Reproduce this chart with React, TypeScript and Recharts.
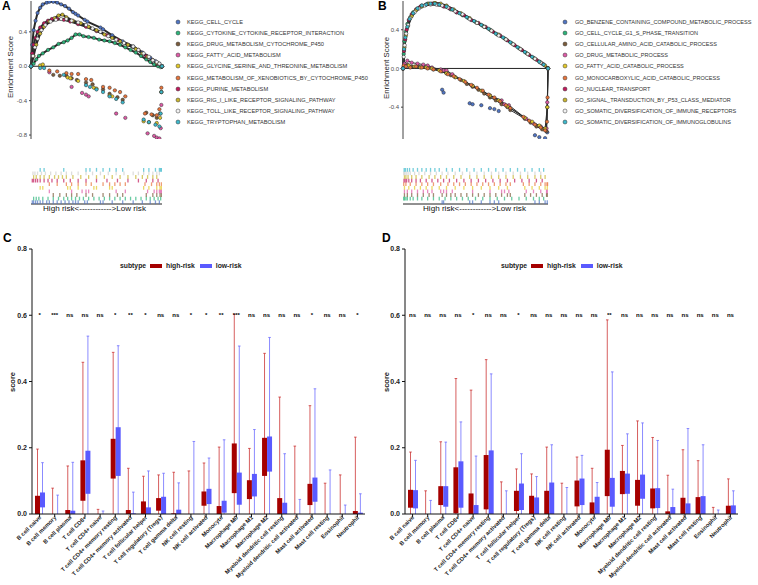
import React from 'react'
import {
  LineChart,
  Line,
  ComposedChart,
  Bar,
  ScatterChart,
  Scatter,
  XAxis,
  YAxis,
  ReferenceLine,
  LabelList
} from 'recharts'

const FONT = '"Liberation Sans", Arial, Helvetica, sans-serif'

// ---------- GSEA running scores, [rank %, enrichment score] ----------
const keggCellCycle = [[0,0],[1,0.25],[2,0.42],[3.5,0.53],[5,0.62],[7,0.68],[9,0.72],[12,0.74],[14,0.75],[17,0.75],[20,0.74],[23,0.72],[26,0.7],[29,0.67],[32,0.63],[34,0.61],[36,0.59],[41,0.54],[43,0.52],[53,0.45],[55,0.43],[62,0.36],[70,0.29],[78,0.23],[85,0.16],[91,0.1],[95,0.06],[98,0.03],[100,0]]
const keggCytokine = [[0,0],[2,0.03],[4,0.08],[6,0.12],[9,0.15],[13,0.19],[17,0.22],[21,0.26],[25,0.28],[28,0.3],[31,0.33],[34,0.37],[37,0.37],[40,0.35],[44,0.34],[48,0.33],[52,0.31],[56,0.3],[60,0.29],[64,0.27],[68,0.25],[72,0.22],[76,0.19],[80,0.16],[84,0.12],[88,0.08],[91,0.05],[94,0.02],[97,0],[99,-0.01],[100,0]]
const keggDrug = [[0,0],[17,-0.1],[22,-0.11],[27,-0.11],[31,-0.14],[35,-0.16],[42,-0.19],[47,-0.21],[55,-0.27],[60,-0.32],[66,-0.36],[70,-0.39],[88,-0.54],[93,-0.57],[96,-0.6],[98.5,-0.55],[99.5,-0.3],[100,0]]
const keggFatty = [[0,0],[14,-0.07],[31,-0.24],[39,-0.31],[42,-0.33],[44,-0.35],[65,-0.55],[72,-0.6],[89,-0.78],[94,-0.81],[96,-0.83],[98,-0.84],[99,-0.72],[99.5,-0.45],[100,0]]
const keggGlycine = [[0,0],[7,0.01],[9,0.02],[28,-0.13],[30,-0.14],[36,-0.17],[48,-0.25],[50,-0.26],[60,-0.34],[62,-0.35],[86,-0.64],[90,-0.65],[96,-0.66],[98.5,-0.6],[99.5,-0.3],[100,0]]
const keggXeno = [[0,0],[14,-0.05],[20,-0.06],[27,-0.08],[31,-0.09],[36,-0.09],[42,-0.15],[46,-0.16],[55,-0.24],[60,-0.25],[64,-0.28],[68,-0.3],[72,-0.35],[87,-0.55],[92,-0.56],[96,-0.57],[98,-0.5],[99.5,-0.25],[100,0]]
const keggPurine = [[0,0],[1,0.15],[2,0.25],[3.5,0.33],[5,0.4],[7,0.45],[10,0.5],[13,0.53],[16,0.55],[20,0.55],[25,0.54],[30,0.52],[36,0.49],[42,0.46],[50,0.41],[58,0.36],[66,0.31],[74,0.25],[82,0.19],[88,0.12],[93,0.07],[97,0.03],[100,0]]
const keggRig = [[0,0],[2,0.12],[4,0.25],[7,0.38],[10,0.46],[14,0.52],[18,0.56],[21,0.59],[24,0.6],[27,0.57],[32,0.53],[38,0.5],[44,0.46],[50,0.42],[56,0.37],[62,0.33],[68,0.29],[74,0.25],[80,0.2],[85,0.15],[89,0.11],[93,0.07],[96,0.04],[100,0]]
const keggToll = [[0,0],[1.5,0.12],[3,0.22],[5,0.32],[8,0.42],[11,0.48],[15,0.52],[19,0.54],[23,0.55],[27,0.55],[31,0.53],[36,0.51],[42,0.48],[47,0.44],[53,0.4],[59,0.35],[65,0.31],[71,0.27],[78,0.23],[82,0.19],[86,0.15],[90,0.11],[93,0.07],[96,0.05],[98,0.03],[100,0]]
const keggTrp = [[0,0],[7,-0.02],[10,-0.02],[25,-0.1],[42,-0.22],[45,-0.24],[50,-0.27],[55,-0.3],[60,-0.35],[65,-0.38],[70,-0.42],[86,-0.62],[90,-0.65],[95,-0.68],[98,-0.7],[99,-0.55],[99.5,-0.3],[100,0]]

const goBenzene = [[0,0],[27,-0.22],[28,-0.25],[46,-0.36],[48,-0.37],[54,-0.38],[60,-0.41],[63,-0.42],[66,-0.44],[91,-0.69],[94,-0.71],[98,-0.72],[99.5,-0.66],[100,0]]
const goG1S = [[0,0],[0.5,0.15],[1,0.28],[2,0.38],[3,0.46],[5,0.53],[7,0.58],[10,0.62],[13,0.65],[17,0.67],[21,0.67],[25,0.66],[29,0.64],[33,0.61],[37,0.58],[41,0.55],[45,0.52],[50,0.48],[55,0.44],[60,0.4],[65,0.35],[70,0.31],[75,0.26],[80,0.21],[85,0.16],[90,0.11],[94,0.07],[97,0.04],[100,0]]
const goAmino = [[0,0],[1,0.03],[3,0.04],[6,0.02],[10,0.03],[14,0.02],[18,0.01],[21,-0.01],[27,-0.03],[30,-0.05],[33,-0.07],[36,-0.09],[40,-0.12],[44,-0.16],[48,-0.19],[52,-0.22],[56,-0.26],[60,-0.3],[64,-0.33],[68,-0.37],[72,-0.4],[74,-0.43],[84,-0.52],[88,-0.56],[92,-0.6],[96,-0.63],[99,-0.65],[99.5,-0.4],[100,0]]
const goDrug = [[0,0],[1,0.05],[3,0.08],[6,0.06],[10,0.05],[14,0.04],[17,0.03],[20,0.01],[26,-0.01],[28,-0.02],[30,-0.02],[34,-0.06],[48,-0.18],[60,-0.28],[68,-0.33],[70,-0.37],[73,-0.38],[85,-0.52],[90,-0.57],[95,-0.6],[99,-0.62],[99.5,-0.35],[100,0]]
const goFatty = [[0,0],[1,0.02],[4,0.03],[8,0.02],[12,0.01],[16,0.01],[20,0],[25,-0.02],[30,-0.05],[36,-0.09],[42,-0.13],[48,-0.18],[54,-0.23],[60,-0.28],[66,-0.33],[72,-0.39],[84,-0.51],[89,-0.55],[94,-0.59],[98,-0.62],[99.5,-0.4],[100,0]]
const goMono = [[0,0],[0.5,0.03],[2,0.02],[5,0.01],[9,0.02],[13,0.01],[17,0],[21,-0.01],[26,-0.03],[31,-0.06],[35,-0.08],[39,-0.11],[43,-0.14],[47,-0.17],[51,-0.2],[55,-0.23],[59,-0.27],[63,-0.3],[67,-0.34],[71,-0.38],[74,-0.41],[83,-0.5],[87,-0.54],[91,-0.58],[95,-0.61],[98,-0.64],[99.3,-0.55],[99.7,-0.3],[100,0]]
const goNuclear = [[0,0],[0.7,0.18],[1.5,0.3],[2.5,0.4],[4,0.5],[6,0.56],[9,0.61],[12,0.64],[16,0.66],[20,0.67],[24,0.66],[28,0.64],[32,0.62],[37,0.58],[42,0.55],[47,0.5],[52,0.47],[57,0.43],[62,0.38],[67,0.34],[72,0.29],[77,0.24],[82,0.19],[87,0.14],[92,0.09],[96,0.05],[100,0]]
const goP53 = [[0,0],[1,0.22],[2,0.34],[3.5,0.44],[6,0.54],[9,0.6],[13,0.64],[18,0.67],[22,0.68],[26,0.67],[30,0.65],[35,0.61],[40,0.57],[46,0.52],[51,0.47],[56,0.43],[61,0.39],[66,0.35],[71,0.3],[76,0.25],[81,0.2],[86,0.15],[91,0.1],[95,0.06],[98,0.03],[100,0]]
const goImmune = [[0,0],[0.5,0.12],[1.2,0.24],[2.2,0.36],[3.5,0.45],[5,0.52],[8,0.58],[11,0.62],[15,0.65],[19,0.66],[23,0.66],[27,0.65],[31,0.63],[36,0.59],[41,0.56],[46,0.51],[51,0.47],[56,0.43],[61,0.39],[66,0.34],[71,0.3],[76,0.25],[81,0.2],[86,0.15],[91,0.1],[95,0.06],[100,0]]
const goIg = [[0,0],[0.8,0.2],[1.6,0.32],[3,0.43],[4.5,0.51],[7,0.57],[10,0.62],[13,0.65],[16,0.66],[19,0.67],[22,0.67],[25,0.66],[30,0.64],[34,0.61],[39,0.57],[44,0.53],[49,0.49],[54,0.45],[59,0.41],[64,0.36],[69,0.32],[74,0.27],[79,0.22],[84,0.17],[89,0.12],[94,0.07],[97,0.04],[100,0]]

const keggSets = [
  { name: 'KEGG_CELL_CYCLE', pts: keggCellCycle, color: '#4f74c4', line: 2 },
  { name: 'KEGG_CYTOKINE_CYTOKINE_RECEPTOR_INTERACTION', pts: keggCytokine, color: '#2bb57a', line: 2 },
  { name: 'KEGG_DRUG_METABOLISM_CYTOCHROME_P450', pts: keggDrug, color: '#7b5b3a', line: 0 },
  { name: 'KEGG_FATTY_ACID_METABOLISM', pts: keggFatty, color: '#de5aa6', line: 0 },
  { name: 'KEGG_GLYCINE_SERINE_AND_THREONINE_METABOLISM', pts: keggGlycine, color: '#e3c928', line: 0 },
  { name: 'KEGG_METABOLISM_OF_XENOBIOTICS_BY_CYTOCHROME_P450', pts: keggXeno, color: '#e8743b', line: 0 },
  { name: 'KEGG_PURINE_METABOLISM', pts: keggPurine, color: '#c2185b', line: 2 },
  { name: 'KEGG_RIG_I_LIKE_RECEPTOR_SIGNALING_PATHWAY', pts: keggRig, color: '#c9b52e', line: 2 },
  { name: 'KEGG_TOLL_LIKE_RECEPTOR_SIGNALING_PATHWAY', pts: keggToll, color: '#f2f2f2', line: 2 },
  { name: 'KEGG_TRYPTOPHAN_METABOLISM', pts: keggTrp, color: '#3cb9cc', line: 0 }
]

const goSets = [
  { name: 'GO_BENZENE_CONTAINING_COMPOUND_METABOLIC_PROCESS', pts: goBenzene, color: '#4f74c4', line: 0 },
  { name: 'GO_CELL_CYCLE_G1_S_PHASE_TRANSITION', pts: goG1S, color: '#2bb57a', line: 2 },
  { name: 'GO_CELLULAR_AMINO_ACID_CATABOLIC_PROCESS', pts: goAmino, color: '#7b5b3a', line: 1 },
  { name: 'GO_DRUG_METABOLIC_PROCESS', pts: goDrug, color: '#de5aa6', line: 1 },
  { name: 'GO_FATTY_ACID_CATABOLIC_PROCESS', pts: goFatty, color: '#e3c928', line: 1 },
  { name: 'GO_MONOCARBOXYLIC_ACID_CATABOLIC_PROCESS', pts: goMono, color: '#e8743b', line: 1 },
  { name: 'GO_NUCLEAR_TRANSPORT', pts: goNuclear, color: '#c2185b', line: 2 },
  { name: 'GO_SIGNAL_TRANSDUCTION_BY_P53_CLASS_MEDIATOR', pts: goP53, color: '#c9b52e', line: 2 },
  { name: 'GO_SOMATIC_DIVERSIFICATION_OF_IMMUNE_RECEPTORS', pts: goImmune, color: '#f2f2f2', line: 2 },
  { name: 'GO_SOMATIC_DIVERSIFICATION_OF_IMMUNOGLOBULINS', pts: goIg, color: '#3cb9cc', line: 2 }
]

// ---------- CIBERSORT immune cell scores ----------
const cells = ['B cell naive', 'B cell memory', 'B cell plasma', 'T cell CD8+', 'T cell CD4+ naive', 'T cell CD4+ memory resting', 'T cell CD4+ memory activated', 'T cell follicular helper', 'T cell regulatory (Tregs)', 'T cell gamma delta', 'NK cell resting', 'NK cell activated', 'Monocyte', 'Macrophage M0', 'Macrophage M1', 'Macrophage M2', 'Myeloid dendritic cell resting', 'Myeloid dendritic cell activated', 'Mast cell activated', 'Mast cell resting', 'Eosinophil', 'Neutrophil']

const cHighQ1 = [0, 0, 0, 0.04, 0, 0.107, 0, 0, 0.01, 0, 0, 0.025, 0, 0.063, 0.045, 0.115, 0, 0, 0.027, 0, 0, 0]
const cHighQ3 = [0.055, 0, 0.012, 0.162, 0, 0.227, 0.012, 0.038, 0.048, 0.002, 0, 0.068, 0.024, 0.213, 0.102, 0.23, 0.048, 0, 0.091, 0, 0, 0.009]
const cHighMax = [0.196, 0.078, 0.145, 0.458, 0.014, 0.488, 0.138, 0.114, 0.118, 0.126, 0.13, 0.154, 0.202, 0.603, 0.198, 0.485, 0.353, 0.205, 0.327, 0.093, 0.118, 0.232]
const cLowQ1 = [0.02, 0, 0, 0.061, 0, 0.115, 0, 0, 0, 0, 0, 0.03, 0.004, 0.028, 0.053, 0.128, 0, 0, 0.037, 0, 0, 0]
const cLowQ3 = [0.065, 0, 0.01, 0.191, 0, 0.262, 0.002, 0.02, 0.052, 0.013, 0, 0.076, 0.04, 0.125, 0.121, 0.234, 0.034, 0, 0.11, 0, 0, 0.004]
const cLowMax = [0.155, 0.057, 0.156, 0.537, 0.009, 0.508, 0.066, 0.13, 0.123, 0.094, 0.219, 0.169, 0.224, 0.507, 0.255, 0.533, 0.182, 0.044, 0.378, 0.133, 0.027, 0.061]
const cSig = ['*', '***', 'ns', 'ns', 'ns', '*', '**', '*', 'ns', 'ns', '*', '*', '**', '***', 'ns', 'ns', 'ns', 'ns', '*', 'ns', 'ns', '*']

const dHighQ1 = [0.019, 0, 0.027, 0.002, 0, 0.014, 0, 0.009, 0, 0, 0, 0.023, 0, 0.054, 0.06, 0.025, 0.017, 0, 0, 0, 0, 0]
const dHighQ3 = [0.073, 0, 0.084, 0.141, 0.062, 0.178, 0, 0.07, 0.055, 0.07, 0, 0.101, 0.035, 0.194, 0.13, 0.103, 0.077, 0.008, 0.049, 0.051, 0, 0.025]
const dHighMax = [0.187, 0.07, 0.218, 0.409, 0.374, 0.466, 0.097, 0.136, 0.121, 0.202, 0.093, 0.172, 0.138, 0.586, 0.207, 0.281, 0.231, 0.117, 0.194, 0.161, 0.02, 0.106]
const dLowQ1 = [0.017, 0, 0.022, 0.019, 0, 0, 0, 0.012, 0, 0, 0, 0.027, 0, 0.022, 0.061, 0.046, 0.018, 0, 0, 0, 0, 0]
const dLowQ3 = [0.072, 0, 0.084, 0.159, 0.027, 0.192, 0, 0.092, 0.05, 0.095, 0, 0.107, 0.052, 0.109, 0.122, 0.119, 0.078, 0.021, 0.032, 0.054, 0, 0.026]
const dLowMax = [0.162, 0.041, 0.217, 0.278, 0.175, 0.423, 0.07, 0.182, 0.113, 0.209, 0.08, 0.177, 0.095, 0.429, 0.242, 0.275, 0.222, 0.075, 0.258, 0.209, 0.012, 0.07]
const dSig = ['ns', 'ns', 'ns', 'ns', '*', 'ns', 'ns', '*', 'ns', 'ns', 'ns', 'ns', 'ns', '**', 'ns', 'ns', 'ns', 'ns', 'ns', 'ns', 'ns', 'ns']

const SIG_Y = 0.6
const RED = '#a50000'
const BLUE = '#5a5aff'

const buildRows = (hq1: number[], hq3: number[], hmax: number[], lq1: number[], lq3: number[], lmax: number[], sig: string[]) =>
  cells.map((cell, i) => ({
    cell,
    hiQ1: hq1[i], hiQ3: hq3[i], hiMax: hmax[i],
    loQ1: lq1[i], loQ3: lq3[i], loMax: lmax[i],
    sig: sig[i]
  }))

const cRows = buildRows(cHighQ1, cHighQ3, cHighMax, cLowQ1, cLowQ3, cLowMax, cSig)
const dRows = buildRows(dHighQ1, dHighQ3, dHighMax, dLowQ1, dLowQ3, dLowMax, dSig)

// whisker (0..max) + box (q1..q3), box position taken from the bar's own scale
const makeBox = (g: string, fill: string, whisk: string) => (p: any) => {
  const d = p.payload
  const max = d[g + 'Max'], q1 = d[g + 'Q1'], q3 = d[g + 'Q3']
  const top = Math.min(p.y, p.y + p.height)
  const h = Math.abs(p.height)
  const ppu = max > 0 ? h / max : 0
  const cx = p.x + p.width / 2
  const bTop = top + (max - q3) * ppu
  const bBot = top + (max - q1) * ppu
  return (
    <g>
      <line x1={cx} x2={cx} y1={top} y2={top + h} stroke={whisk} strokeWidth={1} />
      <line x1={cx - 1.3} x2={cx + 1.3} y1={top} y2={top} stroke={whisk} strokeWidth={1} />
      {q3 > q1 && <rect x={p.x} y={bTop} width={p.width} height={bBot - bTop} fill={fill} />}
    </g>
  )
}

const RotTick = (p: any) => {
  const x = p.x + 2
  const y = p.y - 1
  return (
    <text x={x} y={y} transform={`rotate(-45 ${x} ${y})`} textAnchor="end" fontSize={5.8} fontWeight="bold" fill="#222" fontFamily={FONT}>
      {p.payload.value}
    </text>
  )
}

// significance marks sit in their own group so they get plain grey-scale text rendering
const SigLabel = (p: any) => (
  <g opacity={0.99}>
    <text x={p.x} y={p.y} dy={2} textAnchor="middle" fontSize={6} fontWeight="bold" fill="#000" stroke="none" fontFamily={FONT}>
      {p.value}
    </text>
  </g>
)

function BoxPanel({ rows, left }: { rows: any[]; left: number }) {
  return (
    <div style={{ position: 'absolute', left, top: 240 }}>
      <ComposedChart width={370} height={345} data={rows} margin={{ top: 9, right: 5, bottom: 1, left: 0 }} barGap={0} barSize={5}>
        <XAxis dataKey="cell" interval={0} height={70} tickSize={3} tick={(p: any) => <RotTick {...p} />} axisLine={{ stroke: '#111' }} tickLine={{ stroke: '#111' }} />
        <YAxis domain={[0, 0.8]} ticks={[0, 0.2, 0.4, 0.6, 0.8]} width={32} tickSize={3} tickFormatter={(v: number) => v.toFixed(1)}
          tick={{ fontSize: 7, fontWeight: 'bold', fill: '#222', fontFamily: FONT }} axisLine={{ stroke: '#111' }} tickLine={{ stroke: '#111' }} />
        <Bar dataKey="hiMax" shape={makeBox('hi', RED, 'rgba(200,40,40,0.75)')} isAnimationActive={false} />
        <Bar dataKey="loMax" shape={makeBox('lo', BLUE, 'rgba(110,110,255,0.8)')} isAnimationActive={false} />
        <Line dataKey={() => SIG_Y} stroke="none" dot={false} isAnimationActive={false}>
          <LabelList dataKey="sig" content={SigLabel} />
        </Line>
      </ComposedChart>
    </div>
  )
}

function GseaPanel({ sets, left, width, yDomain, yTicks }: any) {
  return (
    <div style={{ position: 'absolute', left, top: 0 }}>
      <LineChart width={width} height={145} margin={{ top: 1, right: 3, bottom: 6, left: 0 }}>
        <XAxis type="number" dataKey="x" domain={[0, 100]} hide />
        <YAxis type="number" domain={yDomain} ticks={yTicks} allowDataOverflow width={31} tickSize={2}
          tickFormatter={(v: number) => v.toFixed(1)} tick={{ fontSize: 6, fill: '#4d4d4d', fontFamily: FONT }}
          axisLine={{ stroke: '#444' }} tickLine={{ stroke: '#444' }} />
        <ReferenceLine y={0} stroke="#222" strokeWidth={1} />
        {sets.map((s: any) => (
          <Line
            key={s.name}
            data={s.pts.map(([x, y]: number[]) => ({ x, y }))}
            dataKey="y"
            type="linear"
            stroke={s.line ? '#2a2a2a' : 'none'}
            strokeWidth={s.line}
            dot={{ r: 1.7, fill: s.color, stroke: '#2a2a2a', strokeWidth: 0.5 }}
            isAnimationActive={false}
          />
        ))}
      </LineChart>
    </div>
  )
}

function Rug({ sets, left, width }: any) {
  return (
    <div style={{ position: 'absolute', left, top: 166 }}>
      <ScatterChart width={width} height={40} margin={{ top: 2, right: 3, bottom: 2, left: 31 }}>
        <XAxis type="number" dataKey="x" domain={[0, 100]} hide />
        <YAxis type="number" dataKey="row" domain={[0, 10]} hide />
        <ReferenceLine y={0} stroke="#222" strokeWidth={1} />
        {sets.map((s: any, i: number) => (
          <Scatter
            key={s.name}
            data={s.pts.filter(([x]: number[]) => x > 0 && x < 100).map(([x]: number[]) => ({ x, row: i + 0.5 }))}
            isAnimationActive={false}
            shape={(p: any) => (
              <line x1={p.cx} x2={p.cx} y1={p.cy - 1.9} y2={p.cy + 1.9} stroke={s.color === '#f2f2f2' ? '#cfcfcf' : s.color} strokeOpacity={0.7} strokeWidth={1.3} />
            )}
          />
        ))}
      </ScatterChart>
    </div>
  )
}

function SetLegend({ sets, left, gap, size }: any) {
  return (
    <div style={{ position: 'absolute', left, top: 18, fontFamily: FONT, fontSize: size, color: '#333' }}>
      {sets.map((s: any, i: number) => (
        <div key={s.name} style={{ position: 'absolute', top: i * 11.1, left: 0, height: 8, whiteSpace: 'nowrap', display: 'flex', alignItems: 'center' }}>
          <svg width={8} height={8}><circle cx={3} cy={4} r={2} fill={s.color} stroke="#333" strokeWidth={0.5} /></svg>
          <span style={{ marginLeft: gap }}>{s.name}</span>
        </div>
      ))}
    </div>
  )
}

const abs = (left: number, top: number, extra: any = {}) => ({ position: 'absolute' as const, left, top, fontFamily: FONT, whiteSpace: 'nowrap' as const, ...extra })

function VLabel({ text, cx, cy, size, bold }: any) {
  return (
    <div style={abs(cx, cy, { fontSize: size, fontWeight: bold ? 'bold' : 'normal', color: '#222', transform: 'translate(-50%,-50%) rotate(-90deg)' })}>{text}</div>
  )
}

function BoxLegend({ left }: { left: number }) {
  return (
    <div style={abs(left, 262, { fontSize: 6.8, fontWeight: 'bold', color: '#222', display: 'flex', alignItems: 'center' })}>
      <span>subtype</span>
      <span style={{ width: 12, height: 4, background: RED, marginLeft: 4, display: 'inline-block' }} />
      <span style={{ marginLeft: 4 }}>high-risk</span>
      <span style={{ width: 12, height: 4, background: BLUE, marginLeft: 5, display: 'inline-block' }} />
      <span style={{ marginLeft: 4 }}>low-risk</span>
    </div>
  )
}

export default function App() {
  return (
    <div style={{ position: 'absolute', left: 0, top: 0, width: 758, height: 585, background: '#fff', overflow: 'hidden' }}>
      <div style={abs(2, 0, { fontSize: 12, fontWeight: 'bold', lineHeight: '13px' })}>A</div>
      <div style={abs(378, 0, { fontSize: 12, fontWeight: 'bold', lineHeight: '13px' })}>B</div>
      <div style={abs(3, 232, { fontSize: 12, fontWeight: 'bold', lineHeight: '13px' })}>C</div>
      <div style={abs(382, 232, { fontSize: 12, fontWeight: 'bold', lineHeight: '13px' })}>D</div>

      <GseaPanel sets={keggSets} left={0} width={165} yDomain={[-0.846, 0.759]} yTicks={[-0.8, -0.4, 0, 0.4]} />
      <GseaPanel sets={goSets} left={372} width={179} yDomain={[-0.729, 0.697]} yTicks={[-0.4, 0, 0.4]} />
      <VLabel text="Enrichment Score" cx={10} cy={67} size={7.8} />
      <VLabel text="Enrichment Score" cx={386} cy={68} size={7.8} />
      <SetLegend sets={keggSets} left={175} gap={4} size={5.7} />
      <SetLegend sets={goSets} left={562} gap={5} size={5.55} />

      <Rug sets={keggSets} left={0} width={165} />
      <Rug sets={goSets} left={372} width={179} />
      <div style={abs(43, 204, { fontSize: 8.1, color: '#111' })}>High risk&lt;------------&gt;Low risk</div>
      <div style={abs(423, 204, { fontSize: 8.1, color: '#111' })}>High risk&lt;------------&gt;Low risk</div>

      <BoxPanel rows={cRows} left={0} />
      <BoxPanel rows={dRows} left={373} />
      <VLabel text="score" cx={12} cy={382} size={7.5} bold />
      <VLabel text="score" cx={386} cy={382} size={7.5} bold />
      <BoxLegend left={120} />
      <BoxLegend left={501} />
    </div>
  )
}
